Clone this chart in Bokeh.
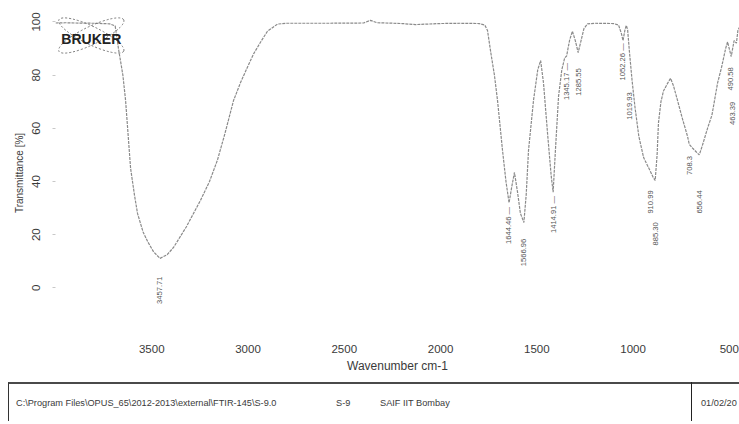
import math
from bokeh.plotting import figure
from bokeh.models import Range1d, FixedTicker, Div, ColumnDataSource
from bokeh.layouts import column
from bokeh.embed import file_html
from bokeh.resources import INLINE
from bokeh.core.properties import value

# ---- spectrum ----
wavenumber = [4000, 3950, 3900, 3800, 3720, 3690, 3673, 3650, 3636, 3610, 3590, 3574,
              3545, 3522, 3490, 3457, 3420, 3387, 3320, 3247, 3200, 3159, 3120, 3075,
              3040, 3003, 2971, 2930, 2899, 2847, 2800, 2600, 2400, 2364, 2330, 2200,
              2130, 2000, 1900, 1800, 1770, 1756, 1740, 1720, 1704, 1678, 1660, 1644,
              1630, 1616, 1600, 1585, 1567, 1555, 1543, 1517, 1495, 1480, 1465, 1444,
              1425, 1415, 1403, 1387, 1370, 1355, 1345, 1330, 1315, 1300, 1285, 1270,
              1255, 1236, 1200, 1100, 1075, 1060, 1052, 1042, 1035, 1028, 1019, 1005,
              990, 970, 945, 925, 911, 895, 885, 875, 868, 855, 842, 820, 805, 790,
              769, 745, 717, 708, 690, 670, 656, 640, 613, 590, 561, 540, 519, 509,
              490, 475, 463, 455, 447]
transmittance = [99.6, 99.7, 99.6, 99.5, 99.3, 98.5, 90.0, 80.0, 70.5, 45.0, 35.0, 28.0,
                 21.0, 17.5, 13.5, 11.1, 12.5, 15.2, 23.0, 32.9, 40.0, 48.0, 58.0, 70.5,
                 77.0, 83.0, 88.0, 93.0, 96.5, 99.2, 99.5, 99.5, 99.6, 100.6, 99.7, 99.4,
                 99.0, 99.4, 99.5, 99.4, 98.8, 96.8, 89.0, 80.0, 70.5, 51.7, 40.0, 32.0,
                 38.0, 43.4, 36.0, 28.0, 24.6, 35.0, 51.7, 70.5, 82.0, 85.5, 77.0, 58.0,
                 42.0, 36.0, 52.0, 72.0, 82.0, 86.5, 87.2, 93.0, 96.5, 93.0, 88.5, 93.0,
                 97.5, 99.3, 99.5, 99.4, 98.8, 95.5, 93.0, 97.0, 98.7, 97.0, 89.0, 78.0,
                 68.0, 57.0, 49.0, 46.0, 44.0, 41.5, 40.4, 50.0, 62.0, 70.0, 74.0, 77.0,
                 78.8, 76.0, 70.5, 64.0, 57.0, 54.0, 52.5, 51.0, 50.0, 53.5, 60.0, 65.0,
                 77.0, 83.0, 90.0, 92.5, 87.0, 93.0, 92.0, 97.0, 98.0]

peak_wn = [3457.71, 1644.46, 1566.96, 1414.91, 1345.17, 1285.55, 1052.26, 1019.93,
           910.99, 885.30, 708.3, 656.44, 490.58, 463.39]
peak_text = ["3457.71", "1644.46 \u2014", "1566.96", "1414.91 \u2014", "1345.17 \u2014",
             "1285.55", "1052.26 \u2014", "1019.93", "910.99", "885.30", "708.3",
             "656.44", "490.58", "463.39"]

x_ticks = [3500, 3000, 2500, 2000, 1500, 1000, 500]
y_ticks = [0, 20, 40, 60, 80, 100]

x_title = "Wavenumber cm-1"
y_title = "Transmittance [%]"
footer_path = r"C:\Program Files\OPUS_65\2012-2013\external\FTIR-145\S-9.0"
footer_sample = "S-9"
footer_lab = "SAIF IIT Bombay"
footer_date = "01/02/20"
logo_text = "BRUKER"

# ---- layout constants (label placement, not data) ----
label_y = [-0.9, 23.5, 13.3, 27.6, 77.6, 77.4, 85.0, 68.4, 32.3, 20.3, 46.0, 32.3, 78.6, 65.6]
label_dx = [0, 0, 0, 0, 0, 0, 0, 0, 0, 0, 0, 0, -1, -4]
logo_pos = (3814, 94.9)

p = figure(width=739, height=375, output_backend="svg", toolbar_location=None,
           x_range=Range1d(4000, 447), y_range=Range1d(-17.9, 104.3),
           min_border_left=55, min_border_right=0, min_border_top=10,
           min_border_bottom=40)
p.outline_line_color = None
p.xgrid.visible = False
p.ygrid.visible = False
p.background_fill_color = "white"
p.border_fill_color = "white"

LINE_GREY = "#8a8a8a"
TEXT = "#3a3a3a"

src = ColumnDataSource(dict(x=wavenumber, y=transmittance))
p.line("x", "y", source=src, line_color=LINE_GREY, line_width=1.2, line_dash="3 1")

lab = ColumnDataSource(dict(x=peak_wn, y=label_y, t=peak_text, dx=label_dx))
p.text("x", "y", text="t", source=lab, angle=math.pi / 2, x_offset="dx",
       text_align="center", text_baseline="middle",
       text_font=value("Liberation Sans"), text_font_size="7.6px",
       text_color="#555555")

# Bruker logo
p.ellipse(x=[logo_pos[0]] * 2, y=[logo_pos[1]] * 2, width=72, height=18,
          width_units="screen", height_units="screen", angle=[0.45, -0.45],
          fill_color=None, line_color="#777777", line_dash="2 2", line_width=1)
p.text(x=[logo_pos[0]], y=[logo_pos[1] - 1.2], text=[logo_text], text_align="center",
       text_baseline="middle", text_font=value("Liberation Sans"),
       text_font_style="bold", text_font_size="14px", text_color="#222222")

# axes
xa = p.xaxis[0]
xa.ticker = FixedTicker(ticks=x_ticks)
xa.axis_line_color = None
xa.major_tick_line_color = None
xa.minor_tick_line_color = None
xa.major_tick_out = 3
xa.major_tick_in = 0
xa.major_label_standoff = 6
xa.major_label_text_font = "Liberation Sans"
xa.major_label_text_font_size = "11.5px"
xa.major_label_text_color = TEXT
xa.axis_label = x_title
xa.axis_label_standoff = 3
xa.axis_label_text_font = "Liberation Sans"
xa.axis_label_text_font_size = "12px"
xa.axis_label_text_font_style = "normal"
xa.axis_label_text_color = TEXT

ya = p.yaxis[0]
ya.ticker = FixedTicker(ticks=y_ticks)
ya.axis_line_color = None
ya.major_tick_line_color = "#c8c8c8"
ya.minor_tick_line_color = None
ya.major_tick_out = 3
ya.major_tick_in = 0
ya.major_label_orientation = "vertical"
ya.major_label_standoff = 12
ya.major_label_text_font = "Liberation Sans"
ya.major_label_text_font_size = "11.5px"
ya.major_label_text_color = TEXT
ya.axis_label = y_title
ya.axis_label_standoff = 5
ya.axis_label_text_font = "Liberation Sans"
ya.axis_label_text_font_size = "10px"
ya.axis_label_text_font_style = "normal"
ya.axis_label_text_color = TEXT

footer_html = f"""
<div style="position:relative;width:739px;height:41px;overflow:hidden;
            font-family:'Liberation Sans',Arial,sans-serif;color:#3a3a3a;">
  <div style="position:absolute;left:3px;top:2px;width:760px;height:60px;
              border-top:2px solid #4a4a4a;border-left:1.5px solid #333;"></div>
  <div style="position:absolute;left:686px;top:2px;height:60px;
              border-left:1.5px solid #222;"></div>
  <span style="position:absolute;left:11px;top:17px;font-size:9.2px;white-space:nowrap;">{footer_path}</span>
  <span style="position:absolute;left:331px;top:17px;font-size:9.2px;white-space:nowrap;">{footer_sample}</span>
  <span style="position:absolute;left:375px;top:17px;font-size:9.2px;white-space:nowrap;">{footer_lab}</span>
  <span style="position:absolute;left:696px;top:17px;font-size:9.2px;white-space:nowrap;">{footer_date}</span>
</div>
"""
footer = Div(text=footer_html, width=739, height=41)

layout = column(p, footer, spacing=0)
open("out.html", "w", encoding="utf-8").write(file_html(layout, INLINE))
